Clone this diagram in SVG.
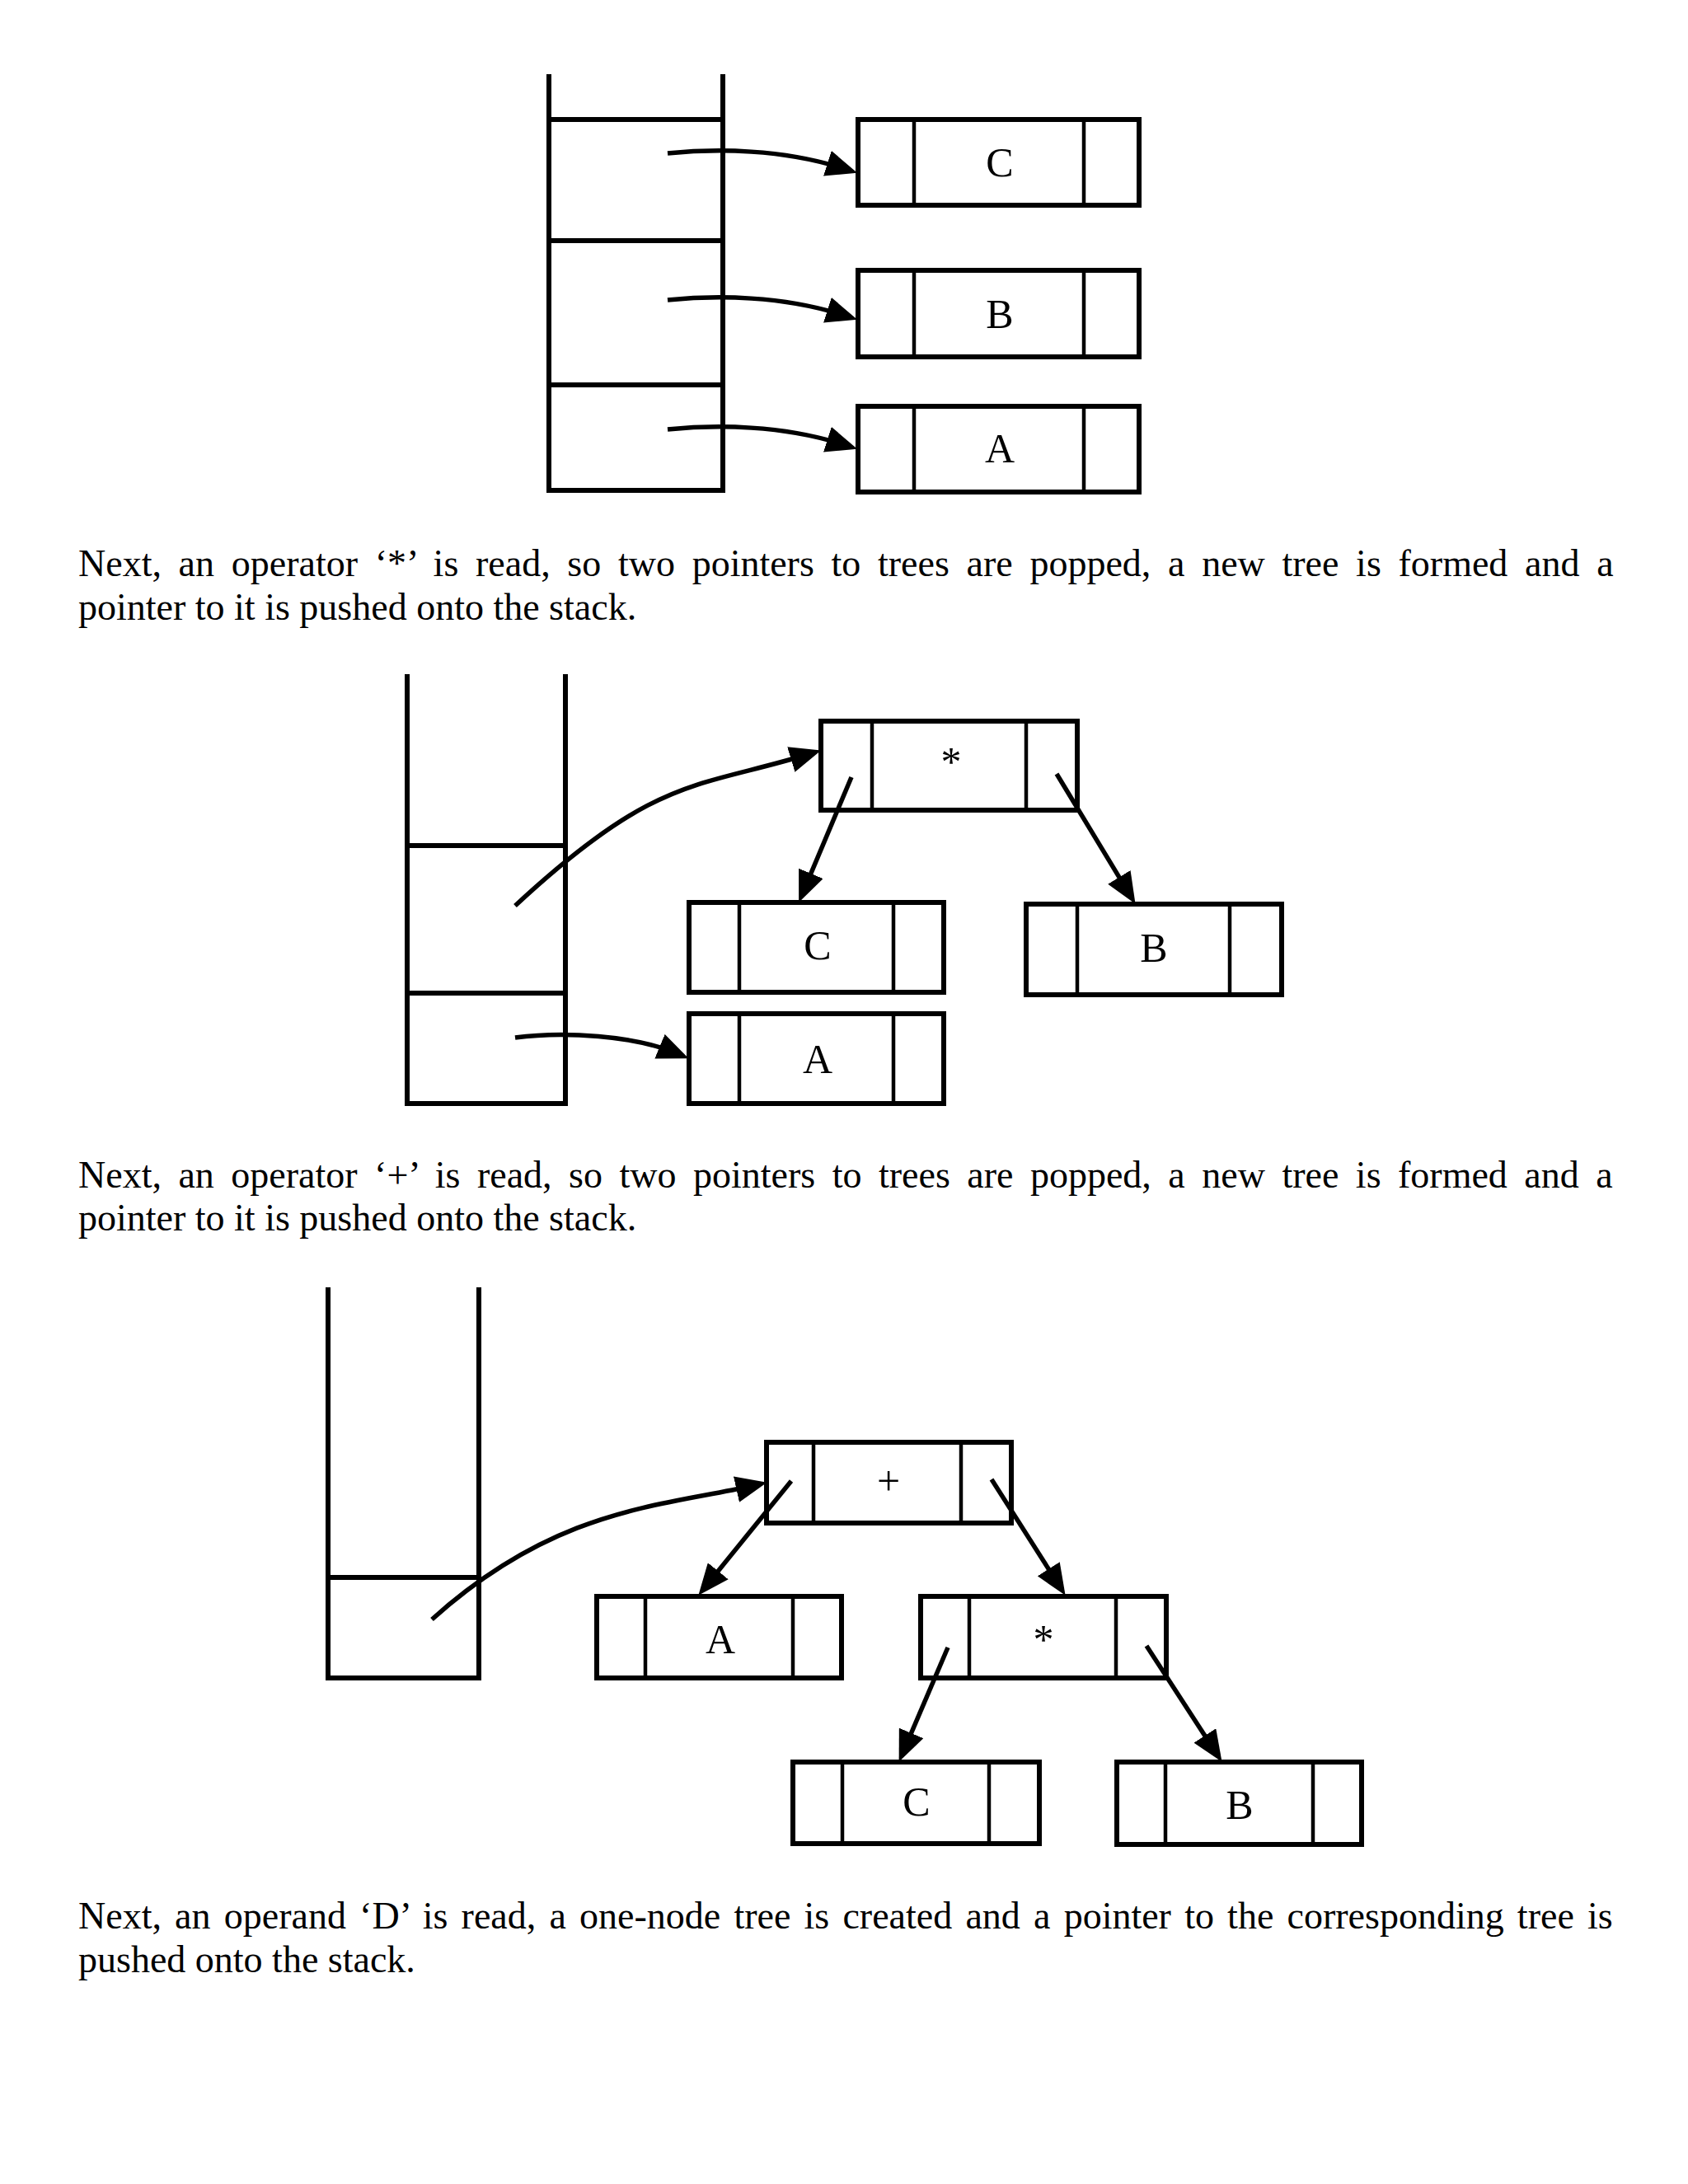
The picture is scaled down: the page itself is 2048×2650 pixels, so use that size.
<svg xmlns="http://www.w3.org/2000/svg" width="2048" height="2650" viewBox="0 0 2048 2650">
<style>
.st{stroke:#000;stroke-width:6;fill:none;stroke-linecap:square}
.box{stroke:#000;stroke-width:6;fill:#fff}
.div{stroke:#000;stroke-width:4.5}
.lbl{font-family:"Liberation Serif","Times New Roman",serif;font-size:50px;text-anchor:middle;fill:#000}
.para{font-family:"Liberation Serif","Times New Roman",serif;font-size:46px;fill:#000}
.arr{stroke:#000;stroke-width:5.5;fill:none;marker-end:url(#ah)}
</style>
<defs>
<marker id="ah" viewBox="0 0 38 32" refX="19" refY="16" markerWidth="38" markerHeight="32" markerUnits="userSpaceOnUse" orient="auto">
<path d="M0,0 L38,16 L0,32 z" fill="#000"/>
</marker>
</defs>
<rect width="2048" height="2650" fill="#fff"/>

<!-- Diagram 1 -->
<g id="stack1">
<path class="st" d="M666,93 V595 H877 V93 M666,145 H877 M666,292 H877 M666,467 H877"/>
</g>
<g id="d1-C"><rect class="box" x="1041" y="145" width="341" height="104"/><line class="div" x1="1109" y1="145" x2="1109" y2="249"/><line class="div" x1="1315" y1="145" x2="1315" y2="249"/><text class="lbl" x="1213" y="214">C</text></g>
<g id="d1-B"><rect class="box" x="1041" y="328" width="341" height="105"/><line class="div" x1="1109" y1="328" x2="1109" y2="433"/><line class="div" x1="1315" y1="328" x2="1315" y2="433"/><text class="lbl" x="1213" y="398">B</text></g>
<g id="d1-A"><rect class="box" x="1041" y="493" width="341" height="104"/><line class="div" x1="1109" y1="493" x2="1109" y2="597"/><line class="div" x1="1315" y1="493" x2="1315" y2="597"/><text class="lbl" x="1213" y="561">A</text></g>

<!-- Diagram 2 -->
<g id="stack2">
<path class="st" d="M494,821 V1339 H686 V821 M494,1026 H686 M494,1205 H686"/>
</g>
<g id="d2-star"><rect class="box" x="996" y="875" width="311" height="108"/><line class="div" x1="1058" y1="875" x2="1058" y2="983"/><line class="div" x1="1245" y1="875" x2="1245" y2="983"/><text class="lbl" x="1154" y="941">*</text></g>
<g id="d2-C"><rect class="box" x="836" y="1095" width="309" height="109"/><line class="div" x1="897" y1="1095" x2="897" y2="1204"/><line class="div" x1="1084" y1="1095" x2="1084" y2="1204"/><text class="lbl" x="992" y="1164">C</text></g>
<g id="d2-B"><rect class="box" x="1245" y="1097" width="310" height="110"/><line class="div" x1="1307" y1="1097" x2="1307" y2="1207"/><line class="div" x1="1492" y1="1097" x2="1492" y2="1207"/><text class="lbl" x="1400" y="1167">B</text></g>
<g id="d2-A"><rect class="box" x="836" y="1230" width="309" height="109"/><line class="div" x1="897" y1="1230" x2="897" y2="1339"/><line class="div" x1="1084" y1="1230" x2="1084" y2="1339"/><text class="lbl" x="992" y="1302">A</text></g>

<!-- Diagram 3 -->
<g id="stack3">
<path class="st" d="M398,1565 V2036 H581 V1565 M398,1914 H581"/>
</g>
<g id="d3-plus"><rect class="box" x="930" y="1750" width="297" height="98"/><line class="div" x1="987" y1="1750" x2="987" y2="1848"/><line class="div" x1="1166" y1="1750" x2="1166" y2="1848"/><text class="lbl" x="1078" y="1814">+</text></g>
<g id="d3-A"><rect class="box" x="724" y="1937" width="297" height="99"/><line class="div" x1="783" y1="1937" x2="783" y2="2036"/><line class="div" x1="962" y1="1937" x2="962" y2="2036"/><text class="lbl" x="874" y="2006">A</text></g>
<g id="d3-star"><rect class="box" x="1117" y="1937" width="298" height="99"/><line class="div" x1="1176" y1="1937" x2="1176" y2="2036"/><line class="div" x1="1354" y1="1937" x2="1354" y2="2036"/><text class="lbl" x="1266" y="2006">*</text></g>
<g id="d3-C"><rect class="box" x="962" y="2138" width="299" height="99"/><line class="div" x1="1022" y1="2138" x2="1022" y2="2237"/><line class="div" x1="1200" y1="2138" x2="1200" y2="2237"/><text class="lbl" x="1112" y="2203">C</text></g>
<g id="d3-B"><rect class="box" x="1355" y="2138" width="297" height="100"/><line class="div" x1="1414" y1="2138" x2="1414" y2="2238"/><line class="div" x1="1593" y1="2138" x2="1593" y2="2238"/><text class="lbl" x="1504" y="2207">B</text></g>

<g id="connectors">
<path class="arr" d="M810,186 C870,180 950,181 1022,204"/>
<path class="arr" d="M810,364 C870,358 950,359 1022,382"/>
<path class="arr" d="M810,521 C870,515 950,516 1022,539"/>
<path class="arr" d="M625,1099 C795,941 846,956 978,916"/>
<path class="arr" d="M625,1259 C685,1251 770,1257 818,1277"/>
<path class="arr" d="M1033,943 L976.5,1077.4"/>
<path class="arr" d="M1282,939 L1367.7,1080.6"/>
<path class="arr" d="M524,1965 C674,1830 800,1828 912,1803"/>
<path class="arr" d="M960,1797 L859.3,1921"/>
<path class="arr" d="M1203,1795 L1282.4,1919.8"/>
<path class="arr" d="M1150,1999 L1098.1,2120.4"/>
<path class="arr" d="M1391,1997 L1472.2,2121.9"/>
</g>

<g id="text1">
<text class="para" x="95" y="699" word-spacing="9.2">Next, an operator ‘*’ is read, so two pointers to trees are popped, a new tree is formed and a</text>
<text class="para" x="95" y="752">pointer to it is pushed onto the stack.</text>
</g>
<g id="text2">
<text class="para" x="95" y="1441" word-spacing="9.0">Next, an operator ‘+’ is read, so two pointers to trees are popped, a new tree is formed and a</text>
<text class="para" x="95" y="1493">pointer to it is pushed onto the stack.</text>
</g>
<g id="text3">
<text class="para" x="95" y="2340" word-spacing="4.7">Next, an operand ‘D’ is read, a one-node tree is created and a pointer to the corresponding tree is</text>
<text class="para" x="95" y="2393">pushed onto the stack.</text>
</g>
</svg>
